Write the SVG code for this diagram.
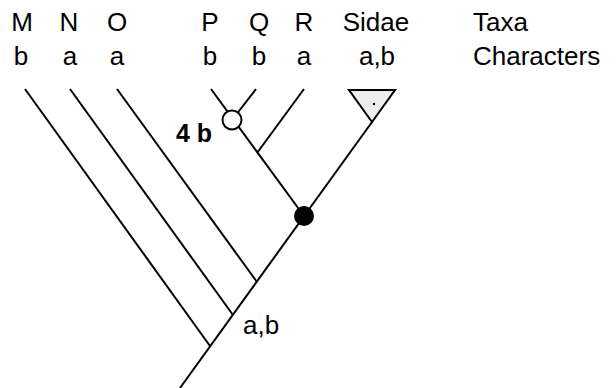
<svg xmlns="http://www.w3.org/2000/svg" width="616" height="388" viewBox="0 0 616 388">
<style>
text{font-family:"Liberation Sans",Arial,sans-serif;font-size:26px;fill:#000}
.c{text-anchor:middle}
.ln{stroke:#000;stroke-width:2;fill:none;stroke-linecap:butt}
.bold{font-weight:bold;font-size:25px}
</style>
<rect width="616" height="388" fill="#fff"/>
<g id="labels">
<text class="c" x="22" y="31">M</text>
<text class="c" x="69" y="31">N</text>
<text class="c" x="117" y="31">O</text>
<text class="c" x="210" y="31">P</text>
<text class="c" x="259" y="31">Q</text>
<text class="c" x="304" y="31">R</text>
<text class="c" x="376" y="31">Sidae</text>
<text x="473" y="31">Taxa</text>
<text class="c" x="21" y="65">b</text>
<text class="c" x="70" y="65">a</text>
<text class="c" x="117" y="65">a</text>
<text class="c" x="210" y="65">b</text>
<text class="c" x="259" y="65">b</text>
<text class="c" x="304" y="65">a</text>
<text class="c" x="377" y="65">a,b</text>
<text x="473" y="65">Characters</text>
</g>
<g id="connectors" class="ln">
<line class="ln" x1="25" y1="89" x2="210" y2="346"/>
<line class="ln" x1="70" y1="89" x2="233" y2="315"/>
<line class="ln" x1="117" y1="89" x2="257" y2="282"/>
<line class="ln" x1="180" y1="388" x2="372" y2="122"/>
<line class="ln" x1="211" y1="89" x2="304" y2="216"/>
<line class="ln" x1="256" y1="89" x2="232" y2="120"/>
<line class="ln" x1="304" y1="89" x2="257" y2="153"/>
</g>
<g id="sidae">
<polygon points="349,90 395,90 372,122" fill="#ededed" stroke="#000" stroke-width="2" stroke-linejoin="miter"/>
<circle cx="374" cy="104" r="1.2" fill="#000"/>
</g>
<g id="node-4b">
<circle cx="232" cy="120" r="9.5" fill="#fff" stroke="#000" stroke-width="2"/>
<text class="bold" x="176" y="142">4 b</text>
</g>
<g id="node-black">
<circle cx="304" cy="216" r="10" fill="#000"/>
</g>
<g id="node-root">
<text x="243" y="334">a,b</text>
</g>
</svg>
